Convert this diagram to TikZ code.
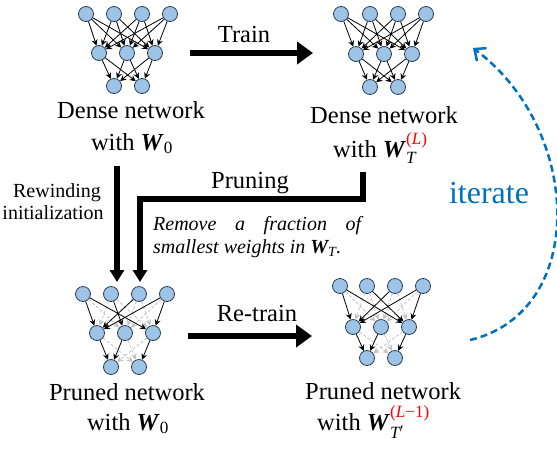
\documentclass[tikz,border=0pt]{standalone}
\usepackage{amsmath}
\usepackage{fontspec}
\setmainfont{Liberation Serif}
\usetikzlibrary{arrows.meta}
\definecolor{nodefill}{RGB}{157,195,230}
\definecolor{nodeedge}{RGB}{45,60,80}
\definecolor{iterblue}{RGB}{0,112,192}
\definecolor{prunegray}{RGB}{195,195,195}
\newcommand{\Wb}{\textbf{\textit{W}}}
\tikzset{
 neuron/.style={circle,fill=nodefill,draw=nodeedge,line width=0.8pt,minimum size=15pt,inner sep=0pt},
 conn/.style={line width=0.8pt,-{Stealth[length=6pt,width=6pt]}},
 prunedconn/.style={line width=0.8pt,draw=prunegray,dash pattern=on 3pt off 2pt,-{Stealth[length=6pt,width=6pt,fill=prunegray]}},
 bigarrow/.style={line width=6pt,-{Triangle[length=16pt,width=22pt]}},
 downarrow/.style={line width=5.5pt,-{Triangle[length=12pt,width=14pt]}},
 lbl/.style={font=\fontsize{24.5}{28}\selectfont,inner sep=0pt},
 smalllbl/.style={font=\fontsize{20}{22}\selectfont,inner sep=0pt},
 itlbl/.style={font=\fontsize{20}{22}\selectfont\itshape,inner sep=0pt},
}
\begin{document}
\begin{tikzpicture}[x=1pt,y=-1pt]
\useasboundingbox (0,0) rectangle (557,448);
% ---------- top-left dense network ----------
\foreach \n/\x in {1/86,2/114,3/142,4/170} \node[neuron] (a-i\n) at (\x,14) {};
\foreach \n/\x in {1/99,2/127,3/155} \node[neuron] (a-m\n) at (\x,53) {};
\foreach \n/\x in {1/114,2/142} \node[neuron] (a-o\n) at (\x,86) {};
\foreach \i in {1,...,4} \foreach \j in {1,2,3} \draw[conn] (a-i\i) -- (a-m\j);
\foreach \i in {1,2,3} \foreach \j in {1,2} \draw[conn] (a-m\i) -- (a-o\j);
% ---------- top-right dense network ----------
\foreach \n/\x in {1/341,2/370,3/398,4/426} \node[neuron] (b-i\n) at (\x,14) {};
\foreach \n/\x in {1/356,2/384,3/412} \node[neuron] (b-m\n) at (\x,54) {};
\foreach \n/\x in {1/370,2/398} \node[neuron] (b-o\n) at (\x,87) {};
\foreach \i in {1,...,4} \foreach \j in {1,2,3} \draw[conn] (b-i\i) -- (b-m\j);
\foreach \i in {1,2,3} \foreach \j in {1,2} \draw[conn] (b-m\i) -- (b-o\j);
% ---------- bottom-left pruned network ----------
\foreach \n/\x in {1/83,2/111,3/139,4/167} \node[neuron] (c-i\n) at (\x,294) {};
\foreach \n/\x in {1/97,2/125,3/153} \node[neuron] (c-m\n) at (\x,333) {};
\foreach \n/\x in {1/111,2/139} \node[neuron] (c-o\n) at (\x,367) {};
\foreach \i/\j in {1/2,2/1,2/3,3/2,3/3,4/2} \draw[prunedconn] (c-i\i) -- (c-m\j);
\foreach \i/\j in {1/2,2/2,3/1} \draw[prunedconn] (c-m\i) -- (c-o\j);
\foreach \i/\j in {1/1,1/3,2/2,3/1,4/1,4/3} \draw[conn] (c-i\i) -- (c-m\j);
\foreach \i/\j in {1/1,2/1,3/2} \draw[conn] (c-m\i) -- (c-o\j);
% ---------- bottom-right pruned network ----------
\foreach \n/\x in {1/340,2/367,3/395,4/423} \node[neuron] (d-i\n) at (\x,286) {};
\foreach \n/\x in {1/353,2/381,3/409} \node[neuron] (d-m\n) at (\x,327) {};
\foreach \n/\x in {1/367,2/395} \node[neuron] (d-o\n) at (\x,358) {};
\foreach \i/\j in {1/2,2/1,3/2,3/3,4/2,2/2} \draw[prunedconn] (d-i\i) -- (d-m\j);
\foreach \i/\j in {1/2,2/2,3/1} \draw[prunedconn] (d-m\i) -- (d-o\j);
\foreach \i/\j in {1/1,1/3,2/3,3/1,4/1,4/3} \draw[conn] (d-i\i) -- (d-m\j);
\foreach \i/\j in {1/1,2/1,3/2} \draw[conn] (d-m\i) -- (d-o\j);
% ---------- labels ----------
\node[lbl,anchor=base] (ta1) at (131,118) {Dense network};
\node[lbl,anchor=base] (ta2) at (132,150) {with $\Wb_{\text{0}}$};
\node[lbl,anchor=base] (tb1) at (384,123) {Dense network};
\node[lbl,anchor=base west] (tb2) at (333,157) {with $\Wb_{\textit{T}}^{\textcolor{red}{\text{(}\textit{L}\text{)}}}$};
\node[lbl,anchor=base] (tc1) at (127,400) {Pruned network};
\node[lbl,anchor=base] (tc2) at (128,430) {with $\Wb_{\text{0}}$};
\node[lbl,anchor=base west] (td1) at (305,399) {Pruned network};
\node[lbl,anchor=base west] (td2) at (317,430) {with $\Wb_{\textit{T}'}^{\textcolor{red}{\text{(}\textit{L}\text{−1)}}}$};
\node[lbl,anchor=base] (ttrain) at (244,42) {Train};
\node[lbl,anchor=base] (tretrain) at (257,321) {Re-train};
\node[lbl,anchor=base] (tprune) at (250,188) {Pruning};
\node[smalllbl,anchor=base] (trew1) at (57,197) {Rewinding};
\node[smalllbl,anchor=base] (trew2) at (53,219) {initialization};
\node[itlbl,anchor=base west] (trem1) at (153,230) {\makebox[208pt][s]{Remove a fraction of}};
\node[itlbl,anchor=base west] (trem2) at (153,253) {smallest weights in $\Wb_{\textit{T}}$.};
\node[font=\fontsize{32}{36}\selectfont,text=iterblue,inner sep=0pt,anchor=base] (titer) at (489,203) {iterate};
% ---------- arrows ----------
\coordinate (trs) at (190,53); \coordinate (tre) at (313,53);
\draw[bigarrow] (trs) -- (tre);
\coordinate (rts) at (188,336); \coordinate (rte) at (312,336);
\draw[bigarrow] (rts) -- (rte);
\coordinate (rws) at (117,166); \coordinate (rwe) at (117,282);
\draw[downarrow] (rws) -- (rwe);
\coordinate (prs) at (363,172); \coordinate (pre) at (140,282);
\draw[downarrow] (prs) |- (140,199) -- (pre);
\coordinate (its) at (470,340); \coordinate (ite) at (473,48);
\draw[iterblue,line width=2.5pt,dash pattern=on 7pt off 4pt,-{Straight Barb[length=9pt,width=16pt]}]
  (its) .. controls (588,312) and (583,130) .. (ite);
\end{tikzpicture}
\end{document}
